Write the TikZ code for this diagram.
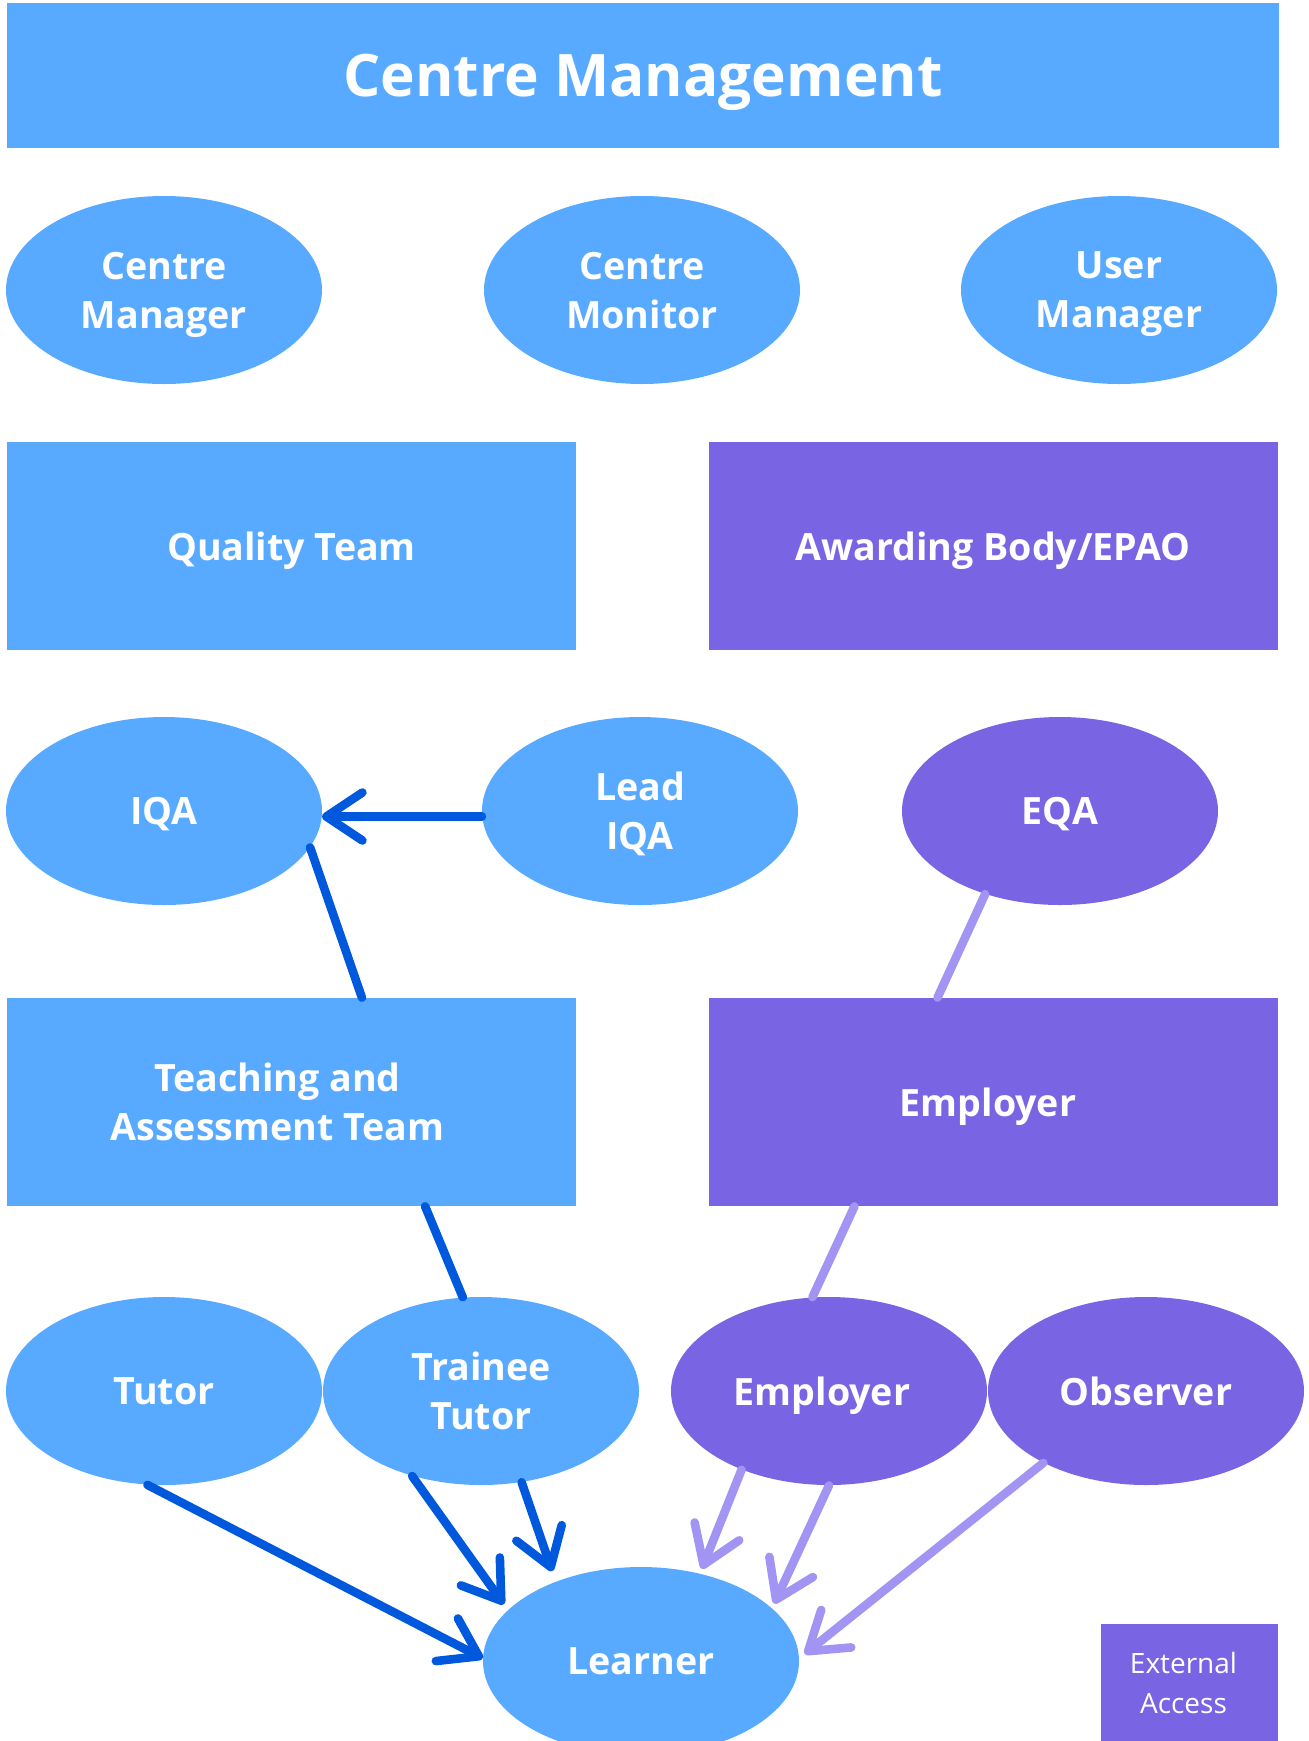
\documentclass[tikz,border=0pt]{standalone}
\usepackage{fontspec}
\setmainfont{Open Sans}
\usetikzlibrary{shapes.geometric,arrows.meta}
\definecolor{lblue}{HTML}{57AAFF}
\definecolor{purp}{HTML}{7964E4}
\definecolor{dblue}{HTML}{0058DD}
\definecolor{lpurp}{HTML}{A194F3}
\begin{document}
\begin{tikzpicture}[x=0.5pt,y=-0.5pt,
  lab/.style={text=white, font=\bfseries\fontsize{18.8}{24.5}\selectfont, align=center, text depth=0pt},
  ell/.style={ellipse, fill=lblue, minimum width=158pt, minimum height=94pt, inner sep=0pt, lab},
  pell/.style={ell, fill=purp},
  box/.style={rectangle, fill=lblue, minimum width=284.5pt, minimum height=104pt, inner sep=0pt, lab},
  pbox/.style={box, fill=purp},
  ln/.style={draw=dblue, line width=4.3pt, line cap=round},
  arr/.style={ln, -{Straight Barb[length=18pt,width=24pt,round]}},
  pln/.style={draw=lpurp, line width=4.3pt, line cap=round},
  parr/.style={pln, -{Straight Barb[length=18pt,width=24pt,round]}}]
\useasboundingbox (0,0) rectangle (1309,1741);
\clip (0,0) rectangle (1309,1741);
\node[box, minimum width=636pt, minimum height=72.5pt, font=\bfseries\fontsize{29.3}{36}\selectfont] (cm) at (643,75.5) {Centre Management};
\node[ell] (cman) at (164,290) {Centre\\Manager};
\node[ell] (cmon) at (642,290) {Centre\\Monitor};
\node[ell] (uman) at (1119,290) {User\\Manager};
\node[box] (qt) at (291.5,546) {Quality Team};
\node[pbox] (ab) at (993,546) {Awarding Body/EPAO};
\node[ell] (iqa) at (164,811) {IQA};
\node[ell] (liqa) at (640,811) {Lead\\IQA};
\node[pell] (eqa) at (1060,811) {EQA};
\node[box, label={[lab, xshift=-7pt]center:Teaching and\\Assessment Team}] (tat) at (291.5,1102) {};
\node[pbox, label={[lab, xshift=-2.5pt]center:Employer}] (empbox) at (993,1102) {};
\node[ell] (tutor) at (164,1391) {Tutor};
\node[ell] (trainee) at (481,1391) {Trainee\\Tutor};
\node[pell, label={[lab, xshift=-3.5pt]center:Employer}] (emp) at (829,1391) {};
\node[pell] (obs) at (1146,1391) {Observer};
\node[ell] (learner) at (641,1661) {Learner};
\node[pbox, minimum width=88.5pt, minimum height=58.5pt, label={[text=white, align=center, font=\fontsize{14}{20}\selectfont, xshift=-3pt]center:External\\Access}] (ext) at (1189.5,1682.5) {};
\draw[arr] (liqa.182) -- (iqa.358);
\draw[ln] (iqa.346) -- (tat.56);
\draw[ln] (tat.322) -- (trainee.101);
\draw[pln] (eqa.228) -- (empbox.118);
\draw[pln] (empbox.217) -- (emp.100);
\draw[arr] (tutor.260) -- (learner.179);
\draw[arr, shorten >=3.5pt] (trainee.231) -- (learner.159);
\draw[arr, shorten >=5.5pt] (trainee.294) -- (learner.137);
\draw[parr, shorten >=2.5pt] (emp.222) -- (learner.56);
\draw[parr, shorten >=2.5pt] (emp.270) -- (learner.22);
\draw[parr, shorten >=3.5pt] (obs.215) -- (learner.1);
\end{tikzpicture}
\end{document}
